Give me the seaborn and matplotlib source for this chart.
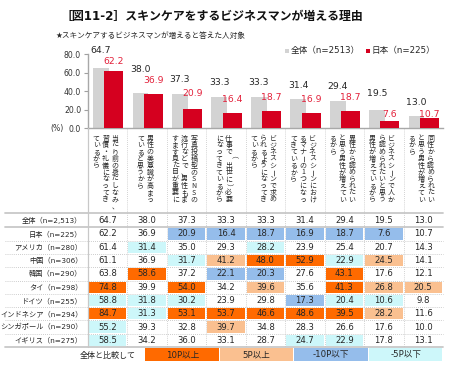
import matplotlib
matplotlib.use("Agg")
import matplotlib.pyplot as plt
import matplotlib.transforms as mtrans
from matplotlib.colors import ListedColormap
from matplotlib.patches import Rectangle
import numpy as np
import pandas as pd
import seaborn as sns

# ---------------- data ----------------
title = "［図11-2］スキンケアをするビジネスマンが増える理由"
subtitle = "★スキンケアするビジネスマンが増えると答えた人対象"
series_names = ["全体（n=2513）", "日本（n=225）"]

reasons = [
    ["当たり前の身だしなみ、", "習慣・礼儀になってき", "ているから"],
    ["男性の美意識が高まっ", "ていると思うから"],
    ["写真投稿型のSNSの", "流行などで、男性もま", "すます見た目が重要に"],
    ["仕事で（出世に）必要", "になってきているから"],
    ["ビジネスシーンで求め", "られるようになってき", "ているから"],
    ["ビジネスシーンにおけ", "るマナーの1つになっ", "てきているから"],
    ["異性から認められたい", "と思う男性が増えてい", "るから"],
    ["ビジネスシーンで人か", "ら認められたいと思う", "男性が増えているから"],
    ["同性から認められたい", "と思う男性が増えてい", "るから"],
]

overall = [64.7, 38.0, 37.3, 33.3, 33.3, 31.4, 29.4, 19.5, 13.0]
japan = [62.2, 36.9, 20.9, 16.4, 18.7, 16.9, 18.7, 7.6, 10.7]
usa = [61.4, 31.4, 35.0, 29.3, 28.2, 23.9, 25.4, 20.7, 14.3]
china = [61.1, 36.9, 31.7, 41.2, 48.0, 52.9, 22.9, 24.5, 14.1]
korea = [63.8, 58.6, 37.2, 22.1, 20.3, 27.6, 43.1, 17.6, 12.1]
thai = [74.8, 39.9, 54.0, 34.2, 39.6, 35.6, 41.3, 26.8, 20.5]
germany = [58.8, 31.8, 30.2, 23.9, 29.8, 17.3, 20.4, 10.6, 9.8]
indonesia = [84.7, 31.3, 53.1, 53.7, 46.6, 48.6, 39.5, 28.2, 11.6]
singapore = [55.2, 39.3, 32.8, 39.7, 34.8, 28.3, 26.6, 17.6, 10.0]
uk = [58.5, 34.2, 36.0, 33.1, 28.7, 24.7, 22.9, 17.8, 13.1]

row_labels = ["全体（n=2,513）", "日本（n=225）", "アメリカ（n=280）", "中国（n=306）",
              "韓国（n=290）", "タイ（n=298）", "ドイツ（n=255）", "インドネシア（n=294）",
              "シンガポール（n=290）", "イギリス（n=275）"]

# highlight class: 2=10P以上, 1=5P以上, -2=-10P以下, -1=-5P以下
hl_overall = [0, 0, 0, 0, 0, 0, 0, 0, 0]
hl_japan = [0, 0, -2, -2, -2, -2, -2, -2, 0]
hl_usa = [0, -1, 0, 0, -1, 0, 0, 0, 0]
hl_china = [0, 0, -1, 1, 2, 2, -1, 1, 0]
hl_korea = [0, 2, 0, -2, -2, 0, 2, 0, 0]
hl_thai = [2, 0, 2, 0, 1, 0, 2, 1, 1]
hl_germany = [-1, -1, -1, 0, 0, -2, -1, -1, 0]
hl_indonesia = [2, -1, 2, 2, 2, 2, 2, 1, 0]
hl_singapore = [-1, 0, 0, 1, 0, 0, 0, 0, 0]
hl_uk = [-1, 0, 0, 0, 0, -1, -1, 0, 0]

legend_title = "全体と比較して"
legend_labels = ["10P以上", "5P以上", "-10P以下", "-5P以下"]

# ---------------- style ----------------
GRAY = "#D3D3D3"
RED = "#D5001F"
RED_TXT = "#E3203A"
ORANGE = "#FF6A00"
LORANGE = "#FAC090"
BLUE = "#95BDEB"
CYAN = "#CDF7FA"
LINE = "#C8C8C8"

sns.set_style("white")
plt.rcParams["font.family"] = ["DejaVu Sans", "Noto Sans CJK JP"]
CJK = ["Noto Sans CJK JP", "DejaVu Sans"]

W, H = 450, 372
fig = plt.figure(figsize=(W / 100, H / 100), dpi=100)


def fx(x):
    return x / W


def fy(y):
    return 1 - y / H


X0, X1 = 88, 443
Y_ZERO, Y_TOP = 128.3, 54.3
COLW = (X1 - X0) / 9

# ---------------- bar chart ----------------
ax = fig.add_axes([fx(X0), fy(Y_ZERO), (X1 - X0) / W, (Y_ZERO - Y_TOP) / H])
idx = np.arange(len(overall))
gray_shift, red_shift = -0.17, 0.155
df_all = pd.DataFrame({"x": idx + gray_shift, "v": overall})
df_jp = pd.DataFrame({"x": idx + red_shift, "v": japan})
sns.barplot(data=df_all, x="x", y="v", native_scale=True, width=0.40, color=GRAY,
            saturation=1, errorbar=None, ax=ax, zorder=2, linewidth=0)
sns.barplot(data=df_jp, x="x", y="v", native_scale=True, width=0.48, color=RED,
            saturation=1, errorbar=None, ax=ax, zorder=3, linewidth=0)
ax.set_xlim(-0.5, 8.5)
ax.set_ylim(0, 80)
ax.set_yticks([0, 20, 40, 60, 80])
ax.set_yticklabels([f"{t:.1f}" for t in [0, 20, 40, 60, 80]], fontsize=5.6, color="#333333")
ax.set_xticks([])
ax.set_xlabel("")
ax.set_ylabel("")
ax.tick_params(axis="y", direction="out", length=3, width=0.8, color="#A0A0A0", pad=2, left=True)
for s in ["top", "right"]:
    ax.spines[s].set_visible(False)
for s in ["left", "bottom"]:
    ax.spines[s].set_color("#A8A8A8")
    ax.spines[s].set_linewidth(1.0)
ax.patch.set_alpha(0)

gray_lbl_off = [17.5, 24, 14.5, 14.5, 14.5, 14, 14.4, 17, 14]
red_lbl_off = [9, 14, 15, 14, 14, 13.4, 14, 7, 4.4]
for i, (a, b) in enumerate(zip(overall, japan)):
    ax.annotate(f"{a:.1f}", (i + gray_shift, a), xytext=(0, gray_lbl_off[i] * 0.72),
                textcoords="offset points", ha="center", va="center", fontsize=6.7,
                color="#262626", annotation_clip=False)
    ax.annotate(f"{b:.1f}", (i + red_shift, b), xytext=(0, red_lbl_off[i] * 0.72),
                textcoords="offset points", ha="center", va="center", fontsize=6.7,
                color=RED_TXT, annotation_clip=False)

fig.text(fx(50), fy(128.3), "(%)", fontsize=5.6, ha="left", va="center", color="#333333")

# vertical (tategaki) category labels
blend = mtrans.blended_transform_factory(ax.transData, fig.transFigure)
rot_chars = {"（": -90, "）": -90, "ー": -90}
col_sp = 0.238
pitch = 6.8
for i, cols in enumerate(reasons):
    n = len(cols)
    for k, col in enumerate(cols):
        xc = i - 0.05 + ((n - 1) / 2 - k) * col_sp
        for j, ch in enumerate(col):
            yy = 138.5 + pitch * j
            ax.text(xc, fy(yy), ch, transform=blend, ha="center", va="center",
                    fontsize=5.0, family=CJK, color="#262626",
                    rotation=rot_chars.get(ch, 0))

# ---------------- table (heatmap) ----------------
T_TOP, T_BOT = 214.0, 347.0
hax = fig.add_axes([fx(X0), fy(T_BOT), (X1 - X0) / W, (T_BOT - T_TOP) / H])
vals = pd.DataFrame([overall, japan, usa, china, korea, thai, germany, indonesia, singapore, uk],
                    index=row_labels)
codes = pd.DataFrame([hl_overall, hl_japan, hl_usa, hl_china, hl_korea, hl_thai, hl_germany,
                      hl_indonesia, hl_singapore, hl_uk], index=row_labels)
sns.heatmap(codes, ax=hax, cmap=ListedColormap([BLUE, CYAN, "white", LORANGE, ORANGE]),
            vmin=-2.5, vmax=2.5, annot=vals.values, fmt=".1f",
            annot_kws={"fontsize": 6.1, "color": "#262626", "family": "DejaVu Sans"},
            cbar=False, linewidths=1.1, linecolor="white",
            xticklabels=False, yticklabels=row_labels)
hax.tick_params(axis="y", length=0, pad=4)
for t in hax.get_yticklabels():
    t.set_rotation(0)
    t.set_fontsize(5.2)
    t.set_color("#262626")
hax.set_xlabel("")
hax.set_ylabel("")

# ---------------- overlay: rules, legends, titles ----------------
oax = fig.add_axes([0, 0, 1, 1], zorder=5)
oax.set_xlim(0, W)
oax.set_ylim(H, 0)
oax.axis("off")
oax.patch.set_alpha(0)

row_h = (T_BOT - T_TOP) / 10
for k in range(2, 10):
    y = T_TOP + row_h * k
    oax.plot([5, X1], [y, y], color="#BDBDBD", lw=0.6, ls=(0, (1, 1.5)))
for y in [212.6, T_TOP + row_h, T_BOT - 0.5]:
    oax.plot([5, X1], [y, y], color=LINE, lw=1.3)
oax.plot([X0, X0], [Y_ZERO, T_BOT], color=LINE, lw=0.9)
for k in range(1, 9):
    x = X0 + COLW * k
    oax.plot([x, x], [Y_ZERO + 1, T_BOT], color="#C4C4C4", lw=0.6, ls=(0, (1, 1.5)))

# bottom legend
oax.text(108, 355, legend_title, ha="center", va="center", fontsize=5.8, color="#262626")
lx0, lw_ = 145, (X1 - 145) / 4
for k, (lab, c) in enumerate(zip(legend_labels, [ORANGE, LORANGE, BLUE, CYAN])):
    oax.add_patch(Rectangle((lx0 + lw_ * k, 348.3), lw_ - 0.8, 12.7, color=c, lw=0))
    oax.text(lx0 + lw_ * (k + 0.5), 355, lab, ha="center", va="center", fontsize=6.2,
             color="#262626")

# top legend
oax.add_patch(Rectangle((285, 48.6), 4.2, 4.2, color=GRAY, lw=0))
oax.text(291, 50.7, series_names[0], ha="left", va="center", fontsize=6.2, color="#262626")
oax.add_patch(Rectangle((365.5, 48.6), 4.2, 4.2, color=RED, lw=0))
oax.text(371.5, 50.7, series_names[1], ha="left", va="center", fontsize=6.2, color="#262626")

fig.text(fx(212), fy(16.5), title, ha="center", va="center", fontsize=8.6,
         fontweight="bold", color="#111111")
fig.text(fx(55), fy(35), subtitle, ha="left", va="center", fontsize=5.5, color="#262626")

fig.savefig("out.png", dpi=100)
